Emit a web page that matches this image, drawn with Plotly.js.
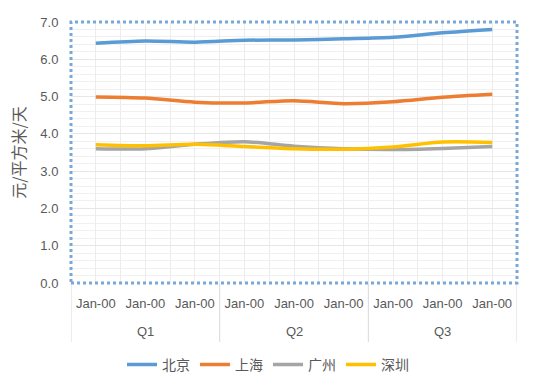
<!DOCTYPE html>
<html>
<head>
<meta charset="utf-8">
<script src="https://cdn.plot.ly/plotly-3.0.1.min.js"></script>
<style>html,body{margin:0;padding:0;background:#fff;}#chart{width:536px;height:380px;}</style>
</head>
<body>
<div id="chart"></div>
<script>
// Data
const months = ["Jan-00","Jan-00","Jan-00","Jan-00","Jan-00","Jan-00","Jan-00","Jan-00","Jan-00"];
const quarters = ["Q1","Q1","Q1","Q2","Q2","Q2","Q3","Q3","Q3"];
const cities = ["北京","上海","广州","深圳"];
const beijing   = [6.43, 6.49, 6.46, 6.51, 6.52, 6.55, 6.59, 6.71, 6.80];
const shanghai  = [4.99, 4.96, 4.85, 4.83, 4.89, 4.81, 4.86, 4.98, 5.06];
const guangzhou = [3.60, 3.60, 3.72, 3.79, 3.67, 3.60, 3.58, 3.61, 3.66];
const shenzhen  = [3.71, 3.68, 3.72, 3.66, 3.60, 3.59, 3.65, 3.78, 3.77];
const yTitle = "元/平方米/天";

const colors = ["#5B9BD5","#ED7D31","#A5A5A5","#FFC000"];
const series = [beijing, shanghai, guangzhou, shenzhen];
const idx = months.map((_, i) => i);

const traces = series.map((vals, k) => ({
  type: "scatter",
  mode: "lines",
  x: idx,
  y: vals,
  name: cities[k],
  line: {color: colors[k], width: 3.5, shape: "spline", smoothing: 0.8},
  hoverinfo: "skip"
}));

// quarter groups
const groups = [];
quarters.forEach((q, i) => {
  const g = groups.find(g => g.name === q);
  if (g) g.end = i; else groups.push({name: q, start: i, end: i});
});

const shapes = [];
const annotations = [];
const sepBottom = -0.226;
groups.forEach((g, gi) => {
  if (gi === 0) {
    shapes.push({type: "line", xref: "x", yref: "paper", x0: g.start - 0.5, x1: g.start - 0.5, y0: 0, y1: sepBottom, line: {color: "#d9d9d9", width: 1}});
  }
  shapes.push({type: "line", xref: "x", yref: "paper", x0: g.end + 0.5, x1: g.end + 0.5, y0: 0, y1: sepBottom, line: {color: "#d9d9d9", width: 1}});
  annotations.push({xref: "x", yref: "paper", x: (g.start + g.end) / 2, y: -0.184, yanchor: "middle", showarrow: false, text: g.name, font: {family: "Liberation Sans, Arial", size: 13, color: "#595959"}});
});
// dotted selection border round the plot area
shapes.push({type: "rect", xref: "paper", yref: "paper", x0: 0, x1: 1, y0: 0, y1: 1, line: {color: "#7aa7da", width: 3, dash: "dot"}, layer: "above"});

const layout = {
  width: 536, height: 380,
  margin: {l: 71, r: 19, t: 22, b: 97, autoexpand: false},
  paper_bgcolor: "#ffffff",
  plot_bgcolor: "#ffffff",
  showlegend: true,
  legend: {orientation: "h", x: 0.5, xanchor: "center", xref: "container", y: 0.04, yref: "container", yanchor: "middle", font: {family: "Noto Sans CJK SC", size: 14, color: "#595959"}, traceorder: "normal", itemwidth: 30},
  xaxis: {
    range: [-0.5, idx.length - 0.5],
    tickmode: "array", tickvals: idx, ticktext: months,
    showgrid: true, gridcolor: "#ececec", gridwidth: 1,
    minor: {tickmode: "linear", tick0: -0.5, dtick: 0.5, showgrid: true, gridcolor: "#ececec", gridwidth: 1},
    ticks: "outside", ticklen: 8, tickcolor: "rgba(0,0,0,0)",
    tickfont: {family: "Liberation Sans, Arial", size: 13, color: "#595959"},
    zeroline: false, showline: false, fixedrange: true, automargin: false
  },
  yaxis: {
    range: [0, 7], dtick: 1, tickformat: ".1f",
    showgrid: true, gridcolor: "#e6e6e6", gridwidth: 1,
    minor: {dtick: 0.2, showgrid: true, gridcolor: "#f0f0f0", gridwidth: 1},
    ticks: "outside", ticklen: 9, tickcolor: "rgba(0,0,0,0)",
    tickfont: {family: "Liberation Sans, Arial", size: 13, color: "#595959"},
    title: {text: yTitle, font: {family: "Noto Sans CJK SC", size: 16, color: "#595959"}, standoff: 10},
    zeroline: false, showline: false, fixedrange: true, automargin: false
  },
  shapes: shapes,
  annotations: annotations
};

Plotly.newPlot("chart", traces, layout, {displayModeBar: false, staticPlot: true});
</script>
</body>
</html>
